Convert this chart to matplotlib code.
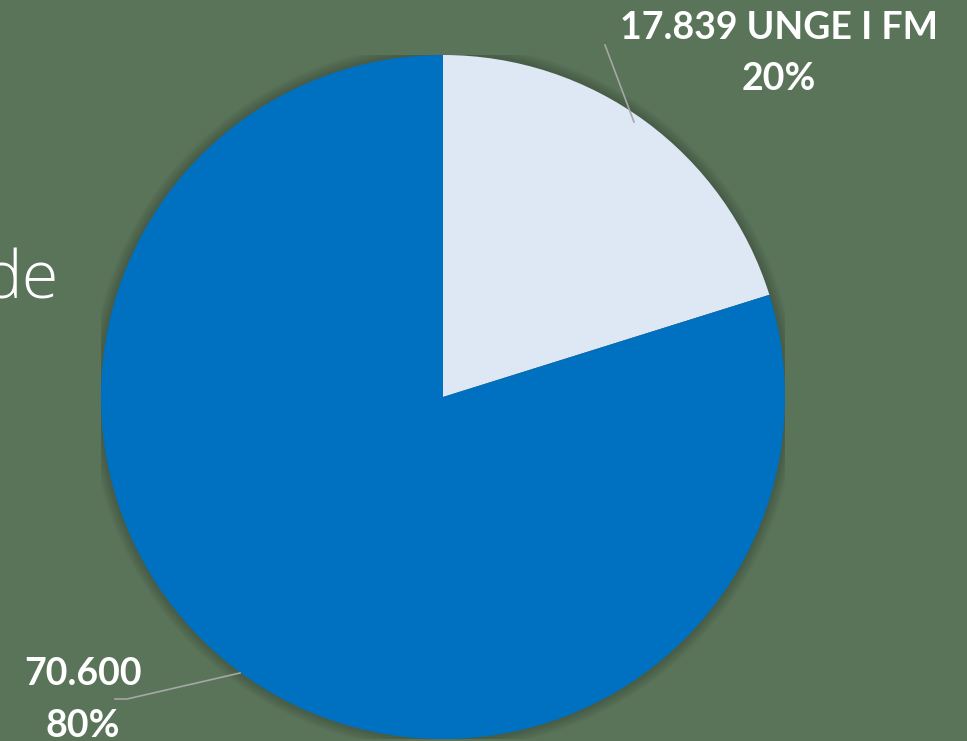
import matplotlib.pyplot as plt
import matplotlib.patches as mpatches

BG = '#5a745a'
counts = [17839, 70600]
names = ['17.839 UNGE I FM', '70.600']
pcts = ['20%', '80%']
colors = ['#dde8f4', '#0070c0']

W, H = 967, 741
fig = plt.figure(figsize=(W / 100, H / 100), dpi=100)
fig.patch.set_facecolor(BG)

# pie centre (443, 397) px, radius 342 px
cx, cy, r = 443, 397, 342
ax = fig.add_axes([(cx - r) / W, (H - cy - r) / H, 2 * r / W, 2 * r / H])
ax.axis('off')

# soft shadow round the pie
for i in range(8):
    ax.add_patch(mpatches.Circle((0, 0), 1 + 0.004 * (8 - i), color='#2f4030',
                                 alpha=0.06, lw=0, zorder=0))

wedges, _ = ax.pie(counts, colors=colors, startangle=90, counterclock=False,
                   radius=1, wedgeprops=dict(linewidth=0))
for w in wedges:
    w.set_zorder(2)
ax.set_xlim(-1, 1)
ax.set_ylim(-1, 1)

# cropped title text behind the chart
fig.text(58 / W, 1 - 299 / H, 'de', color='white', fontsize=48,
         family='Open Sans', fontweight='light', ha='right', va='baseline')


def px(x, y):
    return x / W, 1 - y / H


# leader lines
fig.add_artist(plt.Line2D([634 / W, 605 / W], [1 - 122 / H, 1 - 45 / H],
                          color='#a6a6a6', lw=1.2))
fig.add_artist(plt.Line2D([240 / W, 127 / W, 115 / W],
                          [1 - 673 / H, 1 - 699 / H, 1 - 699 / H],
                          color='#a6a6a6', lw=1.2))

lab = dict(color='white', fontsize=27, family='Lato', fontweight='bold',
           ha='center', va='center')
fig.text(*px(779, 28), names[0], **lab)
fig.text(*px(779, 79), pcts[0], **lab)
fig.text(*px(83, 674), names[1], **lab)
fig.text(*px(83, 726), pcts[1], **lab)

fig.savefig('out.png', dpi=100, facecolor=BG)
